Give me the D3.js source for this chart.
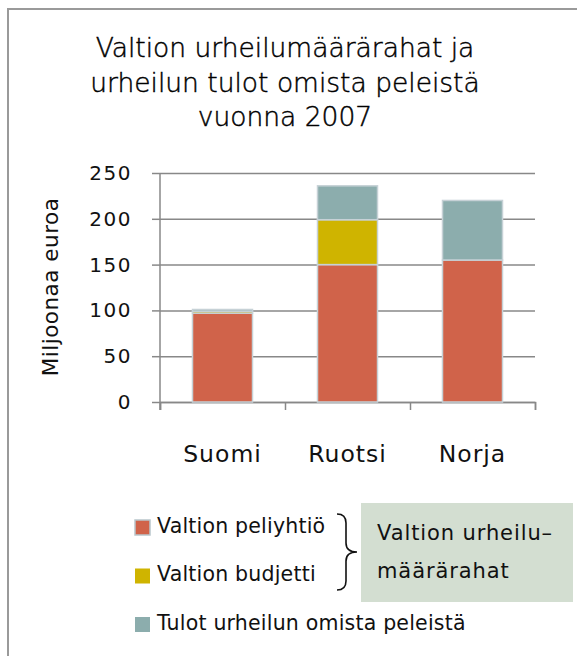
<!DOCTYPE html>
<html>
<head>
<meta charset="utf-8">
<script src="https://cdn.jsdelivr.net/npm/d3@7"></script>
<style>
  body { margin: 0; background: #fff; }
  svg { display: block; }
  text { font-family: "DejaVu Sans", sans-serif; fill: #111; }
</style>
</head>
<body>
<div class="chart"></div>
<script>
// Data (millions of euros, 2007)
const categories = ["Suomi", "Ruotsi", "Norja"];
const peliyhtio = [97, 150, 155];   // Valtion peliyhtiö
const budjetti = [2, 49, 0];        // Valtion budjetti
const omatPelit = [2, 37, 65];      // Tulot urheilun omista peleistä
const yTicks = [0, 50, 100, 150, 200, 250];
const seriesNames = ["Valtion peliyhtiö", "Valtion budjetti", "Tulot urheilun omista peleistä"];
const titleLines = ["Valtion urheilumäärärahat ja", "urheilun tulot omista peleistä", "vuonna 2007"];
const boxLines = ["Valtion urheilu–", "määrärahat"];

const colors = ["#D0634A", "#CFB400", "#8CADAD"];
const W = 577, H = 656;
const margin = { top: 173, right: 42, bottom: 254, left: 160 };

const svg = d3.select(".chart")
    .append("svg")
    .attr("width", W)
    .attr("height", H);

// cornice (solo lati sinistro e superiore visibili)
svg.append("path")
    .attr("d", `M8,${H} L8,9 L${W},9`)
    .attr("fill", "none")
    .attr("stroke", "#9a9a9a")
    .attr("stroke-width", 2);

// titolo
svg.append("g").selectAll("text")
    .data(titleLines)
    .join("text")
    .attr("x", 285)
    .attr("y", (d, i) => 57 + i * 34.5)
    .attr("text-anchor", "middle")
    .style("font-size", "26.5px")
    .style("font-weight", "200")
    .style("fill", "#000")
    .style("stroke", "#000")
    .style("stroke-width", "0.45px")
    .text(d => d);

const table = categories.map((c, i) => ({ name: c, values: [peliyhtio[i], budjetti[i], omatPelit[i]] }));
const stacked = d3.stack()
    .keys([0, 1, 2])
    .value((d, k) => d.values[k])(table);

const x = d3.scaleBand()
    .domain(categories)
    .range([margin.left, W - margin.right])
    .paddingInner(0.52)
    .paddingOuter(0.26);

const xEdge = d3.scaleLinear()
    .domain([0, categories.length])
    .range([margin.left, W - margin.right]);

const y = d3.scaleLinear()
    .domain([0, 250])
    .range([H - margin.bottom, margin.top]);

// griglia + asse y
const yAxis = svg.append("g")
    .attr("transform", `translate(${margin.left},0)`)
    .call(d3.axisLeft(y).tickValues(yTicks).tickSize(8).tickPadding(20))
    .call(g => g.select(".domain").remove());

yAxis.selectAll(".tick line")
    .clone()
    .attr("x1", 0)
    .attr("x2", W - margin.right - margin.left);

yAxis.selectAll("line")
    .attr("stroke", "#888")
    .attr("stroke-width", 1.5);

yAxis.selectAll("text")
    .style("font-size", "20px")
    .style("letter-spacing", "1.5px")
    .attr("fill", "#111");

svg.append("line")
    .attr("x1", margin.left).attr("x2", margin.left)
    .attr("y1", y(250)).attr("y2", y(0) + 8)
    .attr("stroke", "#888")
    .attr("stroke-width", 1.5);

// asse x
const xAxis = svg.append("g")
    .attr("transform", `translate(0,${y(0)})`)
    .call(d3.axisBottom(xEdge).ticks(categories.length).tickSize(8).tickFormat(""));

xAxis.selectAll("line, path")
    .attr("stroke", "#888")
    .attr("stroke-width", 1.5);

svg.append("g").selectAll("text")
    .data(categories)
    .join("text")
    .attr("x", d => x(d) + x.bandwidth() / 2)
    .attr("y", 462)
    .attr("text-anchor", "middle")
    .style("font-size", "23.5px")
    .style("letter-spacing", "1px")
    .text(d => d);

// titolo asse y
svg.append("text")
    .attr("transform", `translate(58,287) rotate(-90)`)
    .attr("text-anchor", "middle")
    .style("font-size", "21.5px")
    .style("letter-spacing", "0.5px")
    .text("Miljoonaa euroa");

// barre
svg.append("g").selectAll("g")
    .data(stacked)
    .join("g")
    .attr("fill", (d, i) => colors[i])
    .selectAll("rect")
    .data(d => d.filter(p => p[1] > p[0]))
    .join("rect")
    .attr("x", d => x(d.data.name))
    .attr("y", d => y(d[1]))
    .attr("width", x.bandwidth())
    .attr("height", d => y(d[0]) - y(d[1]))
    .attr("stroke", "#c6d1d6")
    .attr("stroke-width", 1.5);

// legenda
const legend = svg.append("g").selectAll("g")
    .data(seriesNames)
    .join("g")
    .attr("transform", (d, i) => `translate(135,${520 + i * 48.5})`);

legend.append("rect")
    .attr("width", 15)
    .attr("height", 15)
    .attr("fill", (d, i) => colors[i])
    .attr("stroke", (d, i) => i === 0 ? "#b9c6cc" : "none")
    .attr("stroke-width", 1.5);

legend.append("text")
    .attr("x", 22)
    .attr("y", 12.5)
    .style("font-size", "20.5px")
    .style("letter-spacing", "0.2px")
    .text(d => d);

// parentesi graffa
svg.append("path")
    .attr("d", "M337,514 Q346,514 346,523 L346,543 Q346,552 357,552 Q346,552 346,561 L346,581 Q346,590 337,590")
    .attr("fill", "none")
    .attr("stroke", "#111")
    .attr("stroke-width", 1.6);

// riquadro verde
svg.append("rect")
    .attr("x", 361)
    .attr("y", 503)
    .attr("width", 212)
    .attr("height", 99)
    .attr("fill", "#D3DED1");

svg.append("g").selectAll("text")
    .data(boxLines)
    .join("text")
    .attr("x", 377)
    .attr("y", (d, i) => 540 + i * 38)
    .style("font-size", "21px")
    .style("letter-spacing", "0.9px")
    .text(d => d);
</script>
</body>
</html>
